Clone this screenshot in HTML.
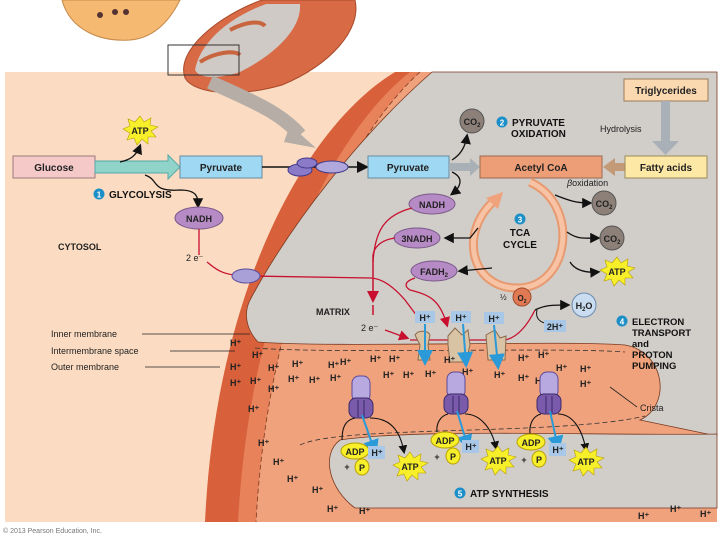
<!DOCTYPE html>
<html><head><meta charset="utf-8"><style>
html,body{margin:0;padding:0;background:#fff;}
svg{display:block;font-family:"Liberation Sans",Arial,sans-serif;}
.b{font-weight:bold;}
</style></head><body>
<svg width="720" height="540" viewBox="0 0 720 540" xmlns="http://www.w3.org/2000/svg">
<defs>
<marker id="ak" markerWidth="8" markerHeight="8" refX="6" refY="4" orient="auto"><path d="M0,0 L8,4 L0,8 Z" fill="#111"/></marker>
<marker id="ar" markerWidth="8" markerHeight="8" refX="6" refY="4" orient="auto"><path d="M0,0 L8,4 L0,8 Z" fill="#c8102e"/></marker>
<marker id="ab" markerWidth="8" markerHeight="8" refX="6" refY="4" orient="auto"><path d="M0,0 L8,4 L0,8 Z" fill="#2a9ad8"/></marker>
</defs>
<!-- top small cell -->
<path d="M62,0 C70,30 100,42 130,40 C155,38 170,20 180,0 Z" fill="#f5b972" stroke="#c58a4a"/>
<circle cx="100" cy="15" r="3" fill="#533"/><circle cx="115" cy="12" r="3" fill="#533"/><circle cx="126" cy="12" r="3" fill="#533"/>
<!-- panel -->
<rect x="5" y="72" width="712" height="450" fill="#fbdcc2"/>
<!-- mitochondrion bands -->
<path d="M395,72 C300,130 215,300 205,522 L717,522 L717,72 Z" fill="#d8603a"/>
<path d="M410,72 C330,135 250,300 238,522 L717,522 L717,72 Z" fill="#e7825a"/>
<path d="M420,72 C345,140 268,300 256,522 L717,522 L717,72 Z" fill="#f0a27c"/>
<path d="M420,72 C345,140 268,300 256,522" fill="none" stroke="#7a3a20" stroke-width="0.8" stroke-dasharray="5,3"/>
<!-- grey matrix upper -->
<path d="M432,72 L717,72 L717,436 L640,420 C672,405 665,352 625,345 C560,340 330,348 258,342 C245,328 244,312 250,300 C290,225 360,135 432,72 Z" fill="#d1cdc9" stroke="#7a3a20" stroke-width="0.8"/>
<path d="M255,348 C330,354 560,347 625,352" fill="none" stroke="#333" stroke-width="0.8" stroke-dasharray="5,3"/>
<path d="M300,445 C340,425 560,436 645,416" fill="none" stroke="#333" stroke-width="0.8" stroke-dasharray="5,3"/>
<!-- lower grey -->
<path d="M340,440 C420,428 600,436 717,434 L717,508 L355,508 C330,490 320,455 340,440 Z" fill="#d1cdc9" stroke="#7a3a20" stroke-width="0.8"/>
<!-- top mitochondrion -->
<path d="M185,78 C175,50 220,15 262,0 L355,0 C362,30 330,65 282,85 C240,97 195,95 185,78 Z" fill="#d86a45" stroke="#a84a2a"/>
<path d="M195,70 C200,42 230,17 266,4 L300,4 C302,30 272,56 240,72 C222,78 200,80 195,70 Z" fill="#cfcac6"/>
<path d="M200,62 C215,52 235,50 240,55" fill="none" stroke="#c8643e" stroke-width="4"/>
<path d="M230,30 C245,22 260,20 265,26" fill="none" stroke="#c8643e" stroke-width="4"/>
<rect x="168" y="45" width="71" height="30" fill="none" stroke="#333"/>
<!-- grey arrow from top -->
<path d="M210,82 C250,100 280,112 300,135" fill="none" stroke="#b6aea6" stroke-width="14"/>
<path d="M290,125 L316,148 L284,142 Z" fill="#b6aea6"/>
<!-- glycolysis -->
<rect x="13" y="156" width="82" height="22" fill="#f6c9c9" stroke="#9a7a7a"/>
<text x="54" y="171" font-size="10" text-anchor="middle" class="b" fill="#222">Glucose</text>
<path d="M95,161 L168,161 L168,155 L180,167 L168,179 L168,173 L95,173 Z" fill="#8fd3c9" stroke="#5aa"/>
<rect x="180" y="156" width="82" height="22" fill="#9fd8f3" stroke="#6a8aa0"/>
<text x="221" y="171" font-size="10" text-anchor="middle" class="b" fill="#222">Pyruvate</text>
<path d="M120,162 C130,160 136,156 140,146" fill="none" stroke="#111" stroke-width="1.3" marker-end="url(#ak)"/>
<polygon points="140,116 144,122 151,118 150,125 158,127 151,131 156,137 148,137 148,144 142,139 137,145 134,138 127,140 130,133 123,129 130,126 128,119 135,122" fill="#f7ef2a" stroke="#b8a000" stroke-width="0.6"/>
<text x="140" y="134" font-size="9" text-anchor="middle" class="b" fill="#222">ATP</text>
<path d="M145,175 C160,180 150,192 180,190 C198,190 198,198 198,206" fill="none" stroke="#111" stroke-width="1.3" marker-end="url(#ak)"/>
<circle cx="99" cy="194" r="5.5" fill="#1c8fc8"/><text x="99" y="197.5" font-size="8" text-anchor="middle" class="b" fill="#fff">1</text>
<text x="109" y="198" font-size="10" class="b" fill="#111">GLYCOLYSIS</text>
<ellipse cx="199" cy="218" rx="24" ry="11" fill="#b68ac4" stroke="#7a5a8a"/>
<text x="199" y="222" font-size="9" text-anchor="middle" class="b" fill="#222">NADH</text>
<text x="58" y="250" font-size="9" class="b" fill="#222">CYTOSOL</text>
<path d="M199,229 L199,255 M207,262 C215,268 220,276 250,276 L370,278 C380,278 392,285 405,300 L420,320" fill="none" stroke="#c8102e" stroke-width="1.3"/>
<text x="186" y="261" font-size="9" fill="#222">2 e⁻</text>
<ellipse cx="246" cy="276" rx="14" ry="7" fill="#a9a0d8" stroke="#5a4a9a"/>
<!-- pyruvate transport -->
<line x1="262" y1="167" x2="366" y2="167" stroke="#111" stroke-width="1.5" marker-end="url(#ak)"/>
<ellipse cx="300" cy="170" rx="12" ry="6" fill="#8a7ac8" stroke="#443a8a"/>
<ellipse cx="307" cy="163" rx="10" ry="5" fill="#8a7ac8" stroke="#443a8a"/>
<ellipse cx="332" cy="167" rx="16" ry="6" fill="#b0a8dc" stroke="#443a8a"/>
<rect x="368" y="156" width="81" height="22" fill="#9fd8f3" stroke="#6a8aa0"/>
<text x="408" y="171" font-size="10" text-anchor="middle" class="b" fill="#222">Pyruvate</text>
<path d="M449,163 L470,163 L470,158 L480,167 L470,176 L470,171 L449,171 Z" fill="#a9b0b6"/>
<rect x="480" y="156" width="122" height="22" fill="#ee9e76" stroke="#9a6a50"/>
<text x="541" y="171" font-size="10" text-anchor="middle" class="b" fill="#222">Acetyl CoA</text>
<path d="M625,163 L615,163 L615,158 L603,167 L615,176 L615,171 L625,171 Z" fill="#c39a78"/>
<rect x="625" y="156" width="82" height="22" fill="#fde8a6" stroke="#9a8a5a"/>
<text x="666" y="171" font-size="10" text-anchor="middle" class="b" fill="#222">Fatty acids</text>
<rect x="624" y="79" width="84" height="22" fill="#fbd9b0" stroke="#9a7a5a"/>
<text x="666" y="94" font-size="10" text-anchor="middle" class="b" fill="#222">Triglycerides</text>
<rect x="661" y="101" width="9" height="42" fill="#aab0b8"/>
<path d="M652,141 L679,141 L665.5,155 Z" fill="#aab0b8"/>
<text x="600" y="132" font-size="9" fill="#222">Hydrolysis</text>
<text x="567" y="186" font-size="9" fill="#222"><tspan font-style="italic">β</tspan>oxidation</text>
<!-- pyruvate oxidation -->
<path d="M452,160 C460,155 465,148 467,136" fill="none" stroke="#111" stroke-width="1.3" marker-end="url(#ak)"/>
<circle cx="472" cy="121" r="12" fill="#8d8078" stroke="#555"/>
<text x="472" y="125" font-size="9" text-anchor="middle" class="b" fill="#222">CO<tspan font-size="6" dy="2">2</tspan></text>
<circle cx="502" cy="122" r="5.5" fill="#1c8fc8"/><text x="502" y="125.5" font-size="8" text-anchor="middle" class="b" fill="#fff">2</text>
<text x="512" y="126" font-size="10" class="b" fill="#111">PYRUVATE</text>
<text x="511" y="137" font-size="10" class="b" fill="#111">OXIDATION</text>
<path d="M452,172 C465,178 460,188 452,194" fill="none" stroke="#111" stroke-width="1.3" marker-end="url(#ak)"/>
<ellipse cx="432" cy="204" rx="23" ry="10" fill="#b68ac4" stroke="#7a5a8a"/>
<text x="432" y="208" font-size="9" text-anchor="middle" class="b" fill="#222">NADH</text>
<ellipse cx="417" cy="238" rx="23" ry="10" fill="#b68ac4" stroke="#7a5a8a"/>
<text x="417" y="242" font-size="9" text-anchor="middle" class="b" fill="#222">3NADH</text>
<ellipse cx="434" cy="271" rx="23" ry="10" fill="#b68ac4" stroke="#7a5a8a"/>
<text x="434" y="275" font-size="9" text-anchor="middle" class="b" fill="#222">FADH<tspan font-size="6" dy="2">2</tspan></text>
<!-- TCA -->
<path d="M530,182 C580,205 570,285 520,288 C470,290 458,232 495,200" fill="none" stroke="#e79a70" stroke-width="9"/>
<path d="M530,182 C580,205 570,285 520,288 C470,290 458,232 495,200" fill="none" stroke="#f7c3a4" stroke-width="5"/>
<path d="M486,198 L503,192 L498,209 Z" fill="#f0a27c"/>
<circle cx="520" cy="219" r="5.5" fill="#1c8fc8"/><text x="520" y="222.5" font-size="8" text-anchor="middle" class="b" fill="#fff">3</text>
<text x="520" y="236" font-size="10" text-anchor="middle" class="b" fill="#111">TCA</text>
<text x="520" y="248" font-size="10" text-anchor="middle" class="b" fill="#111">CYCLE</text>
<path d="M555,195 C568,200 575,203 590,203" fill="none" stroke="#111" stroke-width="1.3" marker-end="url(#ak)"/>
<circle cx="604" cy="203" r="12" fill="#8d8078" stroke="#555"/>
<text x="604" y="207" font-size="9" text-anchor="middle" class="b" fill="#222">CO<tspan font-size="6" dy="2">2</tspan></text>
<path d="M567,232 C578,240 585,238 598,238" fill="none" stroke="#111" stroke-width="1.3" marker-end="url(#ak)"/>
<circle cx="612" cy="238" r="12" fill="#8d8078" stroke="#555"/>
<text x="612" y="242" font-size="9" text-anchor="middle" class="b" fill="#222">CO<tspan font-size="6" dy="2">2</tspan></text>
<path d="M570,262 C575,270 585,273 598,272" fill="none" stroke="#111" stroke-width="1.3" marker-end="url(#ak)"/>
<polygon points="617,257 621,263 628,259 627,266 635,268 628,272 633,278 625,278 625,285 619,280 614,286 611,279 604,281 607,274 600,270 607,267 605,260 612,263" fill="#f7ef2a" stroke="#b8a000" stroke-width="0.6"/>
<text x="617" y="275" font-size="9" text-anchor="middle" class="b" fill="#222">ATP</text>
<path d="M478,228 L470,238 L446,238" fill="none" stroke="#111" stroke-width="1.3" marker-end="url(#ak)"/>
<path d="M492,268 L460,271" fill="none" stroke="#111" stroke-width="1.3" marker-end="url(#ak)"/>
<!-- red electron paths -->
<path d="M412,208 C385,215 375,230 373,262" fill="none" stroke="#c8102e" stroke-width="1.3"/>
<path d="M395,238 C380,240 374,248 373,255" fill="none" stroke="#c8102e" stroke-width="1.3"/>
<path d="M373,255 L373,300" fill="none" stroke="#c8102e" stroke-width="1.5" marker-end="url(#ar)"/>
<path d="M373,305 L373,315" stroke="#c8102e" stroke-width="1.5"/>
<path d="M415,278 C403,282 405,287 410,290 C430,295 440,300 447,325" fill="none" stroke="#c8102e" stroke-width="1.3" marker-end="url(#ar)"/>
<path d="M385,330 L407,338" stroke="#c8102e" stroke-width="1.3" marker-end="url(#ar)"/>
<path d="M410,340 L505,340 C515,338 525,330 535,310" fill="none" stroke="#c8102e" stroke-width="1.3"/>
<text x="361" y="331" font-size="9" fill="#222">2 e⁻</text>
<text x="316" y="315" font-size="9" class="b" fill="#222">MATRIX</text>
<text x="500" y="300" font-size="8" fill="#222">½</text>
<circle cx="522" cy="297" r="9" fill="#e07a55" stroke="#a04a2a"/>
<text x="522" y="301" font-size="8" text-anchor="middle" class="b" fill="#222">O<tspan font-size="5" dy="2">2</tspan></text>
<path d="M535,310 C545,305 552,305 568,305" fill="none" stroke="#111" stroke-width="1.3" marker-end="url(#ak)"/>
<path d="M537,310 C535,318 540,322 545,323" fill="none" stroke="#111" stroke-width="1"/>
<circle cx="584" cy="305" r="12" fill="#c9dcf0" stroke="#6a8ab0"/>
<text x="584" y="309" font-size="9" text-anchor="middle" class="b" fill="#222">H<tspan font-size="6" dy="2">2</tspan><tspan dy="-2">O</tspan></text>
<rect x="544" y="320" width="22" height="12" fill="#a9c8e8"/>
<text x="555" y="330" font-size="9" text-anchor="middle" class="b" fill="#222">2H⁺</text>
<circle cx="622" cy="321" r="5.5" fill="#1c8fc8"/><text x="622" y="324.5" font-size="8" text-anchor="middle" class="b" fill="#fff">4</text>
<g font-size="9.5" class="b" fill="#111">
<text x="632" y="325">ELECTRON</text><text x="632" y="336">TRANSPORT</text><text x="632" y="347">and</text><text x="632" y="358">PROTON</text><text x="632" y="369">PUMPING</text>
</g>
<!-- ETC complexes -->
<path d="M415,335 C418,330 428,330 430,335 L428,345 L430,360 L418,360 L420,345 Z" fill="#d9c3a5" stroke="#8a6a4a"/>
<path d="M448,336 L455,328 L462,335 L468,330 L470,345 L466,362 L450,362 L448,345 Z" fill="#d9c3a5" stroke="#8a6a4a"/>
<path d="M486,335 L495,330 L500,338 L506,336 L505,360 L488,360 Z" fill="#d9c3a5" stroke="#8a6a4a"/>
<g fill="#a9c8e8"><rect x="415" y="311" width="20" height="12"/><rect x="451" y="311" width="20" height="12"/><rect x="484" y="312" width="20" height="12"/></g>
<g font-size="9" class="b" fill="#222" text-anchor="middle"><text x="425" y="321">H⁺</text><text x="461" y="321">H⁺</text><text x="494" y="322">H⁺</text></g>
<g stroke="#2a9ad8" stroke-width="2" fill="none">
<line x1="425" y1="324" x2="425" y2="362" marker-end="url(#ab)"/><line x1="463" y1="324" x2="466" y2="364" marker-end="url(#ab)"/><line x1="494" y1="325" x2="498" y2="366" marker-end="url(#ab)"/>
</g>
<!-- membrane labels -->
<g font-size="9" fill="#222">
<text x="51" y="337">Inner membrane</text><text x="51" y="354">Intermembrane space</text><text x="51" y="370">Outer membrane</text>
<text x="640" y="411">Crista</text>
</g>
<line x1="142" y1="334" x2="250" y2="334" stroke="#222" stroke-width="0.8"/>
<line x1="170" y1="351" x2="235" y2="351" stroke="#222" stroke-width="0.8"/>
<line x1="145" y1="367" x2="220" y2="367" stroke="#222" stroke-width="0.8"/>
<line x1="610" y1="387" x2="637" y2="407" stroke="#222" stroke-width="0.8"/>
<!-- H+ scattered -->
<g font-size="9" class="b" fill="#222">
<text x="230" y="346">H⁺</text><text x="252" y="358">H⁺</text><text x="230" y="370">H⁺</text><text x="268" y="371">H⁺</text><text x="292" y="367">H⁺</text><text x="328" y="368">H⁺</text><text x="340" y="365">H⁺</text><text x="370" y="362">H⁺</text><text x="389" y="362">H⁺</text>
<text x="288" y="382">H⁺</text><text x="309" y="383">H⁺</text><text x="330" y="381">H⁺</text><text x="383" y="378">H⁺</text><text x="403" y="378">H⁺</text><text x="425" y="377">H⁺</text><text x="444" y="363">H⁺</text><text x="462" y="375">H⁺</text><text x="494" y="378">H⁺</text>
<text x="230" y="386">H⁺</text><text x="250" y="384">H⁺</text><text x="268" y="392">H⁺</text><text x="248" y="412">H⁺</text>
<text x="518" y="361">H⁺</text><text x="538" y="358">H⁺</text><text x="518" y="381">H⁺</text><text x="556" y="371">H⁺</text><text x="580" y="372">H⁺</text><text x="535" y="384">H⁺</text><text x="580" y="387">H⁺</text>
<text x="258" y="446">H⁺</text><text x="273" y="465">H⁺</text><text x="287" y="482">H⁺</text><text x="312" y="493">H⁺</text><text x="327" y="512">H⁺</text><text x="359" y="514">H⁺</text>
<text x="638" y="519">H⁺</text><text x="670" y="512">H⁺</text><text x="700" y="517">H⁺</text>
</g>
<!-- ATP synthases -->
<g id="syn">
<rect x="352" y="376" width="18" height="26" rx="7" fill="#b8aae0" stroke="#5a4a9a"/>
<rect x="349" y="398" width="24" height="20" rx="7" fill="#7a5aaa" stroke="#3a2a6a"/>
<line x1="358" y1="400" x2="358" y2="417" stroke="#3a2a6a"/><line x1="364" y1="400" x2="364" y2="417" stroke="#3a2a6a"/>
</g>
<use href="#syn" x="95" y="-4"/>
<use href="#syn" x="188" y="-4"/>
<g stroke="#2a9ad8" stroke-width="2" fill="none">
<line x1="362" y1="415" x2="375" y2="452" marker-end="url(#ab)"/><line x1="457" y1="411" x2="468" y2="447" marker-end="url(#ab)"/><line x1="550" y1="411" x2="558" y2="448" marker-end="url(#ab)"/>
</g>
<g stroke="#111" stroke-width="1.1" fill="none">
<path d="M355,418 C345,420 342,428 342,440"/><path d="M370,418 C390,418 400,430 404,452" marker-end="url(#ak)"/>
<path d="M448,414 C440,416 436,424 437,432"/><path d="M465,414 C480,414 492,428 496,448" marker-end="url(#ak)"/>
<path d="M541,414 C533,416 529,424 530,434"/><path d="M558,414 C572,414 582,428 586,450" marker-end="url(#ak)"/>
</g>
<g font-size="9" class="b" fill="#222" text-anchor="middle">
<ellipse cx="355" cy="451" rx="14" ry="8" fill="#f7ef2a" stroke="#b8a000"/><text x="355" y="455">ADP</text>
<rect x="368" y="446" width="17" height="13" fill="#a9c8e8"/><text x="377" y="456">H⁺</text>
<text x="347" y="470">+</text><ellipse cx="362" cy="467" rx="7" ry="8" fill="#f7ef2a" stroke="#b8a000"/><text x="362" y="471">P</text>
<ellipse cx="445" cy="440" rx="14" ry="8" fill="#f7ef2a" stroke="#b8a000"/><text x="445" y="444">ADP</text>
<rect x="462" y="440" width="17" height="13" fill="#a9c8e8"/><text x="471" y="450">H⁺</text>
<text x="437" y="460">+</text><ellipse cx="453" cy="456" rx="7" ry="8" fill="#f7ef2a" stroke="#b8a000"/><text x="453" y="460">P</text>
<ellipse cx="531" cy="442" rx="14" ry="8" fill="#f7ef2a" stroke="#b8a000"/><text x="531" y="446">ADP</text>
<rect x="549" y="443" width="17" height="13" fill="#a9c8e8"/><text x="558" y="453">H⁺</text>
<text x="524" y="463">+</text><ellipse cx="539" cy="459" rx="7" ry="8" fill="#f7ef2a" stroke="#b8a000"/><text x="539" y="463">P</text>
</g>
<g id="atp">
<polygon points="410,452 414,458 421,454 420,461 428,463 421,467 426,473 418,473 418,480 412,475 407,481 404,474 397,476 400,469 393,465 400,462 398,455 405,458" fill="#f7ef2a" stroke="#b8a000" stroke-width="0.6"/>
<text x="410" y="470" font-size="9" text-anchor="middle" class="b" fill="#222">ATP</text>
</g>
<use href="#atp" x="88" y="-6"/>
<use href="#atp" x="176" y="-5"/>
<circle cx="460" cy="493" r="5.5" fill="#1c8fc8"/><text x="460" y="496.5" font-size="8" text-anchor="middle" class="b" fill="#fff">5</text>
<text x="470" y="497" font-size="10" class="b" fill="#111">ATP SYNTHESIS</text>
<text x="3" y="533" font-size="7" fill="#777">© 2013 Pearson Education, Inc.</text>
</svg>
</body></html>
